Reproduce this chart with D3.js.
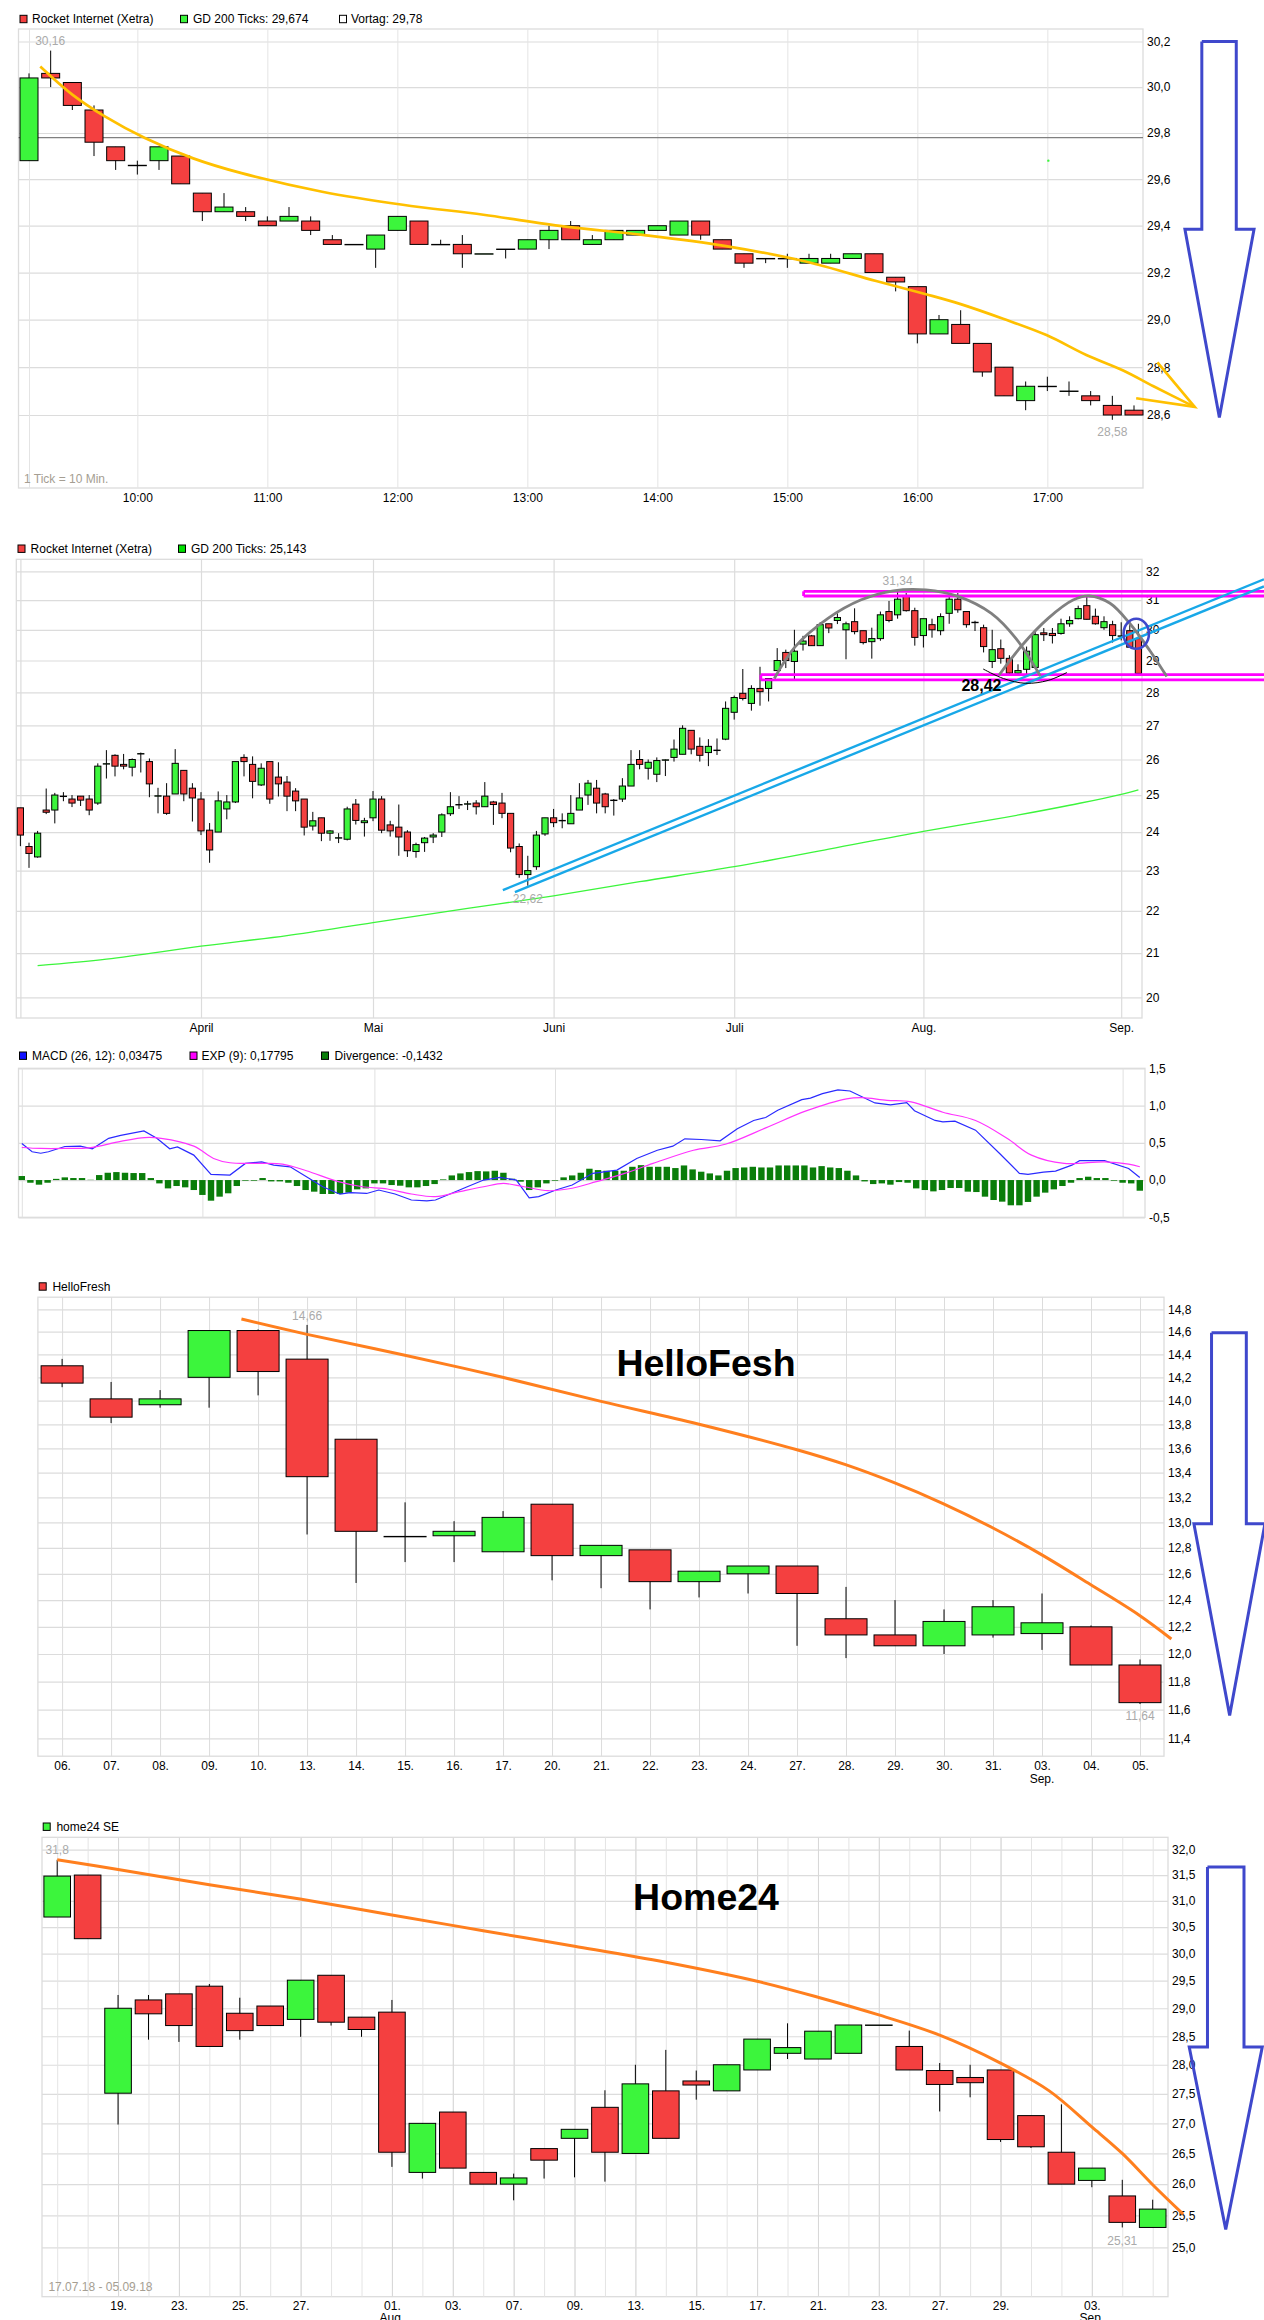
<!DOCTYPE html>
<html><head><meta charset="utf-8">
<script src="https://cdn.jsdelivr.net/npm/d3@7"></script>
<style>
html,body{margin:0;padding:0;background:#fff;overflow:hidden}
svg{display:block}
text{font-family:"Liberation Sans",Arial,sans-serif;font-size:12px;fill:#000}
</style></head><body>
<script>
// ---------- Rocket Internet intraday (10 min ticks) ----------
const introOpen=[29.68,30.06,30.02,29.90,29.74,29.66,29.68,29.70,29.54,29.46,29.46,29.42,29.42,29.42,29.34,29.32,29.30,29.38,29.42,29.32,29.32,29.28,29.30,29.30,29.34,29.40,29.32,29.34,29.36,29.38,29.36,29.42,29.34,29.28,29.26,29.26,29.24,29.24,29.26,29.28,29.18,29.14,28.94,28.98,28.90,28.80,28.66,28.72,28.70,28.68,28.64,28.62];
const introClose=[30.04,30.04,29.92,29.76,29.68,29.66,29.74,29.58,29.46,29.48,29.44,29.40,29.44,29.38,29.32,29.32,29.36,29.44,29.32,29.32,29.28,29.28,29.30,29.34,29.38,29.34,29.34,29.38,29.38,29.40,29.42,29.36,29.30,29.24,29.26,29.26,29.26,29.26,29.28,29.20,29.16,28.94,29.00,28.90,28.78,28.68,28.72,28.72,28.70,28.66,28.60,28.60];
const introHigh=[30.06,30.16,30.02,29.92,29.74,29.68,29.74,29.70,29.54,29.54,29.48,29.44,29.48,29.44,29.36,29.32,29.36,29.44,29.42,29.34,29.36,29.28,29.30,29.34,29.40,29.42,29.36,29.38,29.38,29.40,29.42,29.42,29.34,29.28,29.26,29.28,29.28,29.28,29.28,29.28,29.18,29.14,29.02,29.04,28.90,28.80,28.74,28.76,28.74,28.70,28.68,28.64];
const introLow=[29.68,30.0,29.90,29.70,29.64,29.62,29.64,29.58,29.42,29.46,29.42,29.40,29.42,29.36,29.32,29.32,29.22,29.38,29.32,29.32,29.22,29.28,29.26,29.30,29.30,29.34,29.32,29.34,29.36,29.38,29.36,29.34,29.30,29.22,29.24,29.22,29.24,29.24,29.26,29.20,29.12,28.90,28.94,28.90,28.76,28.68,28.62,28.70,28.68,28.64,28.58,28.60];
const introPriceTicks=[30.2,30.0,29.8,29.6,29.4,29.2,29.0,28.8,28.6];
const introHourIdx=[0,5,11,17,23,29,35,41,47];
const introHourLabels=["","10:00","11:00","12:00","13:00","14:00","15:00","16:00","17:00"];
const introPrevClose=29.78;
const introGdPoint=[47,29.68];
const introGold=[[0.52,30.09],[2,29.967],[3.5,29.872],[5.35,29.778],[7.58,29.69],[9.81,29.626],[13.53,29.546],[17.25,29.49],[20.97,29.447],[24.68,29.397],[28.4,29.36],[32.1,29.314],[35.84,29.247],[39.1,29.164],[41.4,29.108],[43,29.066],[44.96,29.004],[46.96,28.935],[48.8,28.851],[50.5,28.786],[51.9,28.72],[53.8,28.634]];
const introGoldHead=[[52.08,28.82],[53.8,28.634],[51.1,28.67]];
const introBlueArrow=[[54.13,30.2],[55.72,30.2],[55.72,29.385],[56.54,29.385],[54.94,28.59],[53.35,29.385],[54.13,29.385],[54.13,30.2]];

// ---------- Rocket Internet daily ----------
const dayOpen=[24.65,23.62,23.35,24.59,24.59,24.97,24.89,24.97,24.89,24.78,25.88,26.12,25.86,25.78,26.17,25.94,24.98,24.97,25.03,25.69,25.19,24.89,24.05,24.0,24.62,24.81,26.06,25.86,25.28,25.94,25.5,25.36,25.11,24.89,24.16,24.38,23.97,23.85,23.81,24.75,24.25,24.38,24.89,24.19,24.13,24.0,23.49,23.72,23.87,24.0,24.49,24.74,24.76,24.78,24.68,24.81,24.78,24.5,23.62,22.9,23.1,23.95,24.38,24.31,24.22,24.59,25.0,25.19,25.03,24.86,24.89,25.25,26.0,25.75,25.58,25.99,26.06,26.15,26.85,26.38,26.2,26.27,26.59,27.39,27.97,27.66,28.12,28.12,28.68,29.26,28.97,29.53,29.8,29.48,30.2,30.31,30.0,30.27,29.97,29.61,29.71,30.61,30.5,31.13,30.64,29.81,30.17,29.97,30.55,31.03,30.61,30.25,30.07,28.97,29.38,29.07,28.6,28.72,28.78,29.9,29.88,29.88,30.2,30.37,30.81,30.45,30.07,30.17,29.8,29.97,29.71];
const dayClose=[23.92,23.44,23.97,24.53,25.0,24.97,24.78,24.86,24.59,25.81,25.88,25.81,25.81,26.0,26.17,25.31,24.98,24.5,25.89,25.03,24.92,24.03,23.53,24.84,24.81,25.94,25.94,25.38,25.75,24.89,25.31,24.97,24.84,24.13,24.3,23.97,24.03,23.85,24.62,24.31,24.3,24.89,24.05,24.03,23.87,23.51,23.67,23.84,23.92,24.46,24.68,24.74,24.76,24.68,24.97,24.74,24.5,23.58,22.9,23.0,23.92,24.38,24.25,24.31,24.5,24.92,25.33,24.78,24.68,24.86,25.25,25.86,25.86,25.92,25.97,25.99,26.3,26.91,26.3,26.12,26.38,26.27,27.51,27.84,27.81,28.12,28.02,28.43,29.0,29.0,29.3,29.63,29.48,30.17,30.06,30.41,30.2,29.94,29.58,29.71,30.5,30.31,31.03,30.64,29.75,30.37,30.0,30.44,31.03,30.67,30.17,30.25,29.45,29.35,29.07,28.6,28.68,29.3,29.84,29.84,29.81,30.2,30.31,30.71,30.35,30.2,30.27,29.81,29.8,29.43,28.59];
const dayHigh=[24.65,23.72,24.03,25.18,25.06,25.08,25.0,24.97,25.0,25.89,26.27,26.15,26.16,26.03,26.2,26.03,25.2,25.33,26.3,25.69,25.33,25.08,24.24,25.1,25.0,25.94,26.15,26.09,25.89,25.94,25.92,25.53,25.19,24.89,24.54,24.38,24.05,23.97,24.68,24.89,24.38,25.11,24.97,24.3,24.74,24.05,23.72,23.87,23.97,24.5,25.08,24.97,24.84,24.86,25.36,24.84,25.06,24.5,23.7,23.38,24.03,24.38,24.62,24.5,25.0,25.33,25.42,25.42,25.06,24.89,25.47,26.27,26.27,26.0,26.06,26.0,26.58,27.0,26.85,26.64,26.59,26.61,27.72,27.9,28.73,28.22,28.8,28.43,29.4,29.35,30.0,29.8,29.83,30.25,30.2,30.55,30.27,30.72,29.97,30.07,30.61,30.97,31.34,31.24,30.74,30.37,30.37,30.55,31.15,31.24,30.61,30.3,30.17,30.0,29.68,29.17,28.88,29.45,29.96,30.06,30.06,30.37,30.45,30.81,31.13,30.71,30.45,30.3,30.25,30.25,30.2];
const dayLow=[23.63,23.07,23.33,24.48,24.23,24.83,24.67,24.70,24.45,24.73,25.46,25.52,25.72,25.52,25.63,24.94,24.5,24.46,25.03,24.83,24.28,23.92,23.2,24.0,24.34,24.78,25.52,24.91,25.25,24.76,24.96,24.56,24.56,23.91,24.04,23.76,23.77,23.71,23.78,24.2,23.88,24.29,23.97,23.88,23.38,23.35,23.33,23.48,23.71,23.87,24.43,24.62,24.59,24.47,24.68,24.19,24.37,23.47,22.82,22.62,23.02,23.9,24.13,24.1,24.22,24.59,24.73,24.5,24.5,24.44,24.81,25.25,25.72,25.43,25.36,25.53,25.94,26.15,26.15,25.94,25.81,26.13,26.56,27.17,27.75,27.44,27.59,27.72,28.68,28.76,28.4,29.32,29.48,29.48,29.89,30.19,29.04,29.85,29.52,29.06,29.64,30.25,30.37,30.61,29.48,29.42,29.74,29.82,30.2,30.57,30.07,29.96,29.26,28.76,28.9,28.57,28.54,28.55,28.78,29.63,29.55,29.84,30.1,30.35,30.34,30.17,30.0,29.58,29.65,29.42,28.55];
const dayGd200=[[2,20.71],[10,20.86],[21,21.16],[31,21.41],[41,21.72],[52,22.06],[62,22.37],[72,22.72],[83,23.1],[94,23.55],[105,24.02],[113,24.33],[122,24.72],[128,25.02],[130,25.143]];
const dayPriceTicks=[32,31,30,29,28,27,26,25,24,23,22,21,20];
const dayMonthIdx=[0,21,41,62,83,105,128];
const dayMonthLabels=["","April","Mai","Juni","Juli","Aug.","Sep."];
const dayMagentaLevels=[31.3,31.14,28.55,28.39];
const dayMagentaStarts=[91.07,91.07,86.1,86.1];
const dayMagentaEnd=145;
const dayBlueA=[[56.1,22.51],[144.6,31.72]];
const dayBlueB=[[57.5,22.46],[144.6,31.47]];
const dayArc1=[[87.66,28.43],[90.1,29.45],[93.9,30.38],[97.7,31.0],[101.5,31.32],[105.3,31.35],[109.1,31.12],[112.9,30.55],[115.75,29.72],[118.6,28.51]];
const dayArc2=[[113.8,28.54],[116.5,29.5],[119.5,30.38],[122.4,31.0],[124.3,31.14],[126.7,30.89],[129,30.21],[131.4,29.29],[133.3,28.49]];
const dayBowl=[[111.95,28.73],[114.3,28.43],[116.9,28.28],[119.5,28.37],[121.7,28.62]];
const dayCircle=[129.75,29.87];

// ---------- MACD ----------
const macdDivergence=[.054,-.036,-.062,-.036,.016,.036,.027,.027,.004,.067,.098,.107,.098,.094,.094,.027,-.045,-.112,-.08,-.098,-.134,-.2,-.277,-.223,-.178,-.08,-.009,-.009,.027,-.018,-.018,-.036,-.08,-.134,-.156,-.187,-.187,-.187,-.169,-.125,-.112,-.045,-.045,-.067,-.076,-.098,-.098,-.08,-.054,.009,.062,.089,.107,.12,.116,.125,.098,.018,-.022,-.134,-.098,-.045,-.009,.036,.062,.098,.152,.134,.125,.125,.125,.178,.2,.178,.178,.178,.161,.196,.143,.112,.089,.062,.125,.161,.169,.178,.169,.169,.196,.196,.196,.196,.169,.187,.169,.161,.125,.062,-.018,-.054,-.045,-.062,-.027,-.036,-.112,-.134,-.152,-.134,-.107,-.107,-.156,-.161,-.223,-.268,-.29,-.339,-.339,-.294,-.223,-.169,-.125,-.08,-.036,.027,.045,.027,.027,-.009,-.036,-.045,-.1432];
const macdLine=[[0,.49],[1.2,.38],[2.2,.36],[3.1,.38],[5,.45],[6.8,.455],[8.2,.42],[10.1,.56],[11.5,.6],[14.2,.66],[15.7,.56],[17.2,.42],[18.1,.445],[20,.335],[22,.076],[24.2,.067],[26,.223],[27.9,.245],[29.3,.2],[31.2,.178],[33.1,.045],[35,-.09],[37,-.19],[38.2,-.17],[40.1,-.18],[41.5,-.134],[43.4,-.187],[45.3,-.268],[47.1,-.28],[48.1,-.268],[50,-.178],[51.8,-.09],[53.7,0],[55.6,.036],[57.5,0],[59,-.24],[60.1,-.223],[62.1,-.134],[64,-.067],[66.4,.09],[69.2,.134],[71.5,.29],[73.9,.4],[75.7,.455],[77.1,.553],[79,.544],[81.2,.526],[83.2,.69],[85.1,.8],[86.5,.84],[87.9,.937],[90.7,1.08],[91.7,1.1],[93.1,1.16],[94.9,1.21],[96.3,1.195],[99.2,1.035],[101,1.01],[102.9,1.04],[103.8,.93],[106.2,.8],[107.1,.78],[108.5,.79],[110.9,.67],[113.7,.357],[116,.09],[117,.076],[118.8,.107],[120.2,.12],[122.1,.2],[123,.26],[125.9,.26],[128.7,.156],[130,.035]];
const macdExp=[[0,.437],[2.2,.424],[5,.424],[7.8,.433],[11.5,.52],[14.3,.57],[16.2,.56],[20,.455],[22.3,.29],[24.2,.232],[27.5,.223],[30.3,.214],[33.1,.125],[36.8,-.022],[39.6,-.09],[42.5,-.12],[45.3,-.187],[48.1,-.223],[50.9,-.156],[53.7,-.09],[56,-.045],[58.4,-.09],[61.2,-.143],[64,-.11],[66.8,-.022],[70.1,.09],[73.4,.223],[78.1,.4],[81.8,.48],[86.5,.7],[91.2,.928],[95.9,1.09],[97.7,1.106],[100.6,1.07],[103.4,1.05],[107.1,.91],[110.9,.8],[114.6,.557],[117.4,.334],[121.2,.223],[125.9,.245],[128.7,.214],[130,.178]];
const macdTicks=[1.5,1,.5,0,-.5];

// ---------- HelloFresh ----------
const helloDays=["06.","07.","08.","09.","10.","13.","14.","15.","16.","17.","20.","21.","22.","23.","24.","27.","28.","29.","30.","31.","03.","04.","05."];
const helloOpen=[14.30,14.015,13.965,14.2,14.61,14.358,13.675,12.89,12.895,12.77,13.145,12.74,12.785,12.54,12.6,12.66,12.26,12.14,12.06,12.14,12.15,12.2,11.92];
const helloClose=[14.15,13.86,14.015,14.61,14.25,13.367,12.93,12.89,12.93,13.04,12.74,12.82,12.54,12.62,12.66,12.45,12.14,12.06,12.24,12.35,12.23,11.92,11.65];
const helloHigh=[14.36,14.16,14.09,14.61,14.62,14.66,13.675,13.16,13.01,13.09,13.145,12.82,12.785,12.62,12.66,12.66,12.5,12.40,12.33,12.4,12.45,12.21,11.96];
const helloLow=[14.115,13.81,13.94,13.94,14.045,12.905,12.53,12.69,12.69,12.77,12.55,12.49,12.33,12.42,12.45,12.06,11.97,12.06,12.0,12.12,12.03,11.92,11.64];
const helloTicks=[14.8,14.6,14.4,14.2,14.0,13.8,13.6,13.4,13.2,13.0,12.8,12.6,12.4,12.2,12.0,11.8,11.6,11.4];
const helloCurve=[[3.66,14.7125],[5,14.576],[6.95,14.397],[8.99,14.2],[11,13.994],[12.98,13.803],[14.98,13.59],[15.99,13.465],[16.97,13.32],[17.98,13.15],[18.98,12.96],[19.98,12.75],[20.98,12.52],[21.97,12.29],[22.64,12.11]];
const helloArrow=[[23.46,14.59],[24.17,14.59],[24.17,12.99],[24.55,12.99],[23.83,11.56],[23.1,12.99],[23.46,12.99],[23.46,14.59]];

// ---------- home24 ----------
const homeOpen=[30.69,31.5,27.51,29.15,29.26,29.4,28.91,29.04,28.8,29.6,28.84,28.93,26.19,27.19,26.19,26.0,26.58,26.75,27.27,26.5,27.55,27.72,27.55,27.91,28.2,28.1,28.2,28.7,28.32,27.9,27.78,27.91,27.13,26.52,26.06,25.81,25.31];
const homeClose=[31.48,30.28,29.0,28.9,28.69,28.32,28.6,28.69,29.51,28.75,28.62,26.52,27.0,26.26,26.0,26.1,26.39,26.9,26.52,27.67,26.75,27.65,28.0,28.45,28.3,28.59,28.7,28.7,27.91,27.66,27.69,26.73,26.61,26.0,26.26,25.39,25.6];
const homeHigh=[31.8,31.5,29.24,29.24,29.26,29.44,29.19,29.04,29.51,29.6,28.84,29.15,27.0,27.19,26.19,26.17,26.58,26.9,27.56,28.0,28.26,27.9,28.0,28.45,28.73,28.59,28.7,28.7,28.6,28.03,28.0,27.91,27.13,27.32,26.26,26.07,25.75];
const homeLow=[30.69,30.28,26.98,28.44,28.4,28.32,28.44,28.69,28.49,28.69,28.49,26.28,26.09,26.26,26.0,25.74,26.09,26.11,26.04,26.5,26.75,27.4,27.55,27.91,28.1,28.1,28.2,28.7,27.91,27.2,27.44,26.69,26.59,26.0,25.95,25.31,25.31];
const homeTicks=[32,31.5,31,30.5,30,29.5,29,28.5,28,27.5,27,26.5,26,25.5,25];
const homeLabelIdx=[2,4,6,8,11,13,15,17,19,21,23,25,27,29,31,34];
const homeLabels=["19.","23.","25.","27.","01.","03.","07.","09.","13.","15.","17.","21.","23.","27.","29.","03."];
const homeCurve=[[0,31.8],[2.1,31.6],[5,31.31],[8.03,31.03],[11,30.73],[14,30.43],[17,30.14],[20,29.84],[23,29.49],[25,29.2],[27,28.88],[29,28.52],[31,28.03],[32.6,27.55],[34,26.94],[35,26.5],[36,25.99],[37,25.52]];
const homeArrow=[[37.8,31.66],[39,31.66],[39,28.31],[39.6,28.31],[38.4,25.28],[37.2,28.31],[37.8,28.31],[37.8,31.66]];

// ---------- colours ----------
const RED="#f44040",GREEN="#3cf53c",GRID="#dcdcdc",FRAME="#dcdcdc",NOTE="#aaaaaa",BLUEARROW="#3f48cc",GOLD="#ffc000",ORANGE="#ff7f1e";

const svg=d3.select("body").append("svg").attr("width",1264).attr("height",2320).attr("viewBox","0 0 1264 2320");
const comma=d=>String(d).replace(".",",");
const fix1=d=>d.toFixed(1).replace(".",",");

function legend(items,y){
  items.forEach(it=>{
    svg.append("rect").attr("x",it.x+.5).attr("y",y-3.7).attr("width",7).attr("height",7.4).attr("fill",it.c).attr("stroke","#000").attr("stroke-width",1);
    svg.append("text").attr("x",it.tx).attr("y",y+4.2).text(it.t);
  });
}
function frame(b){
  svg.append("rect").attr("x",b.l).attr("y",b.t).attr("width",b.r-b.l).attr("height",b.b-b.t).attr("fill","#fff").attr("stroke",FRAME).attr("stroke-width",1.3);
}
function gridY(scale,ticks,b,fmt,pad){
  const g=svg.append("g").attr("transform",`translate(${b.r},0)`)
    .call(d3.axisRight(scale).tickValues(ticks).tickFormat(fmt).tickSize(-(b.r-b.l)).tickPadding(pad));
  g.select(".domain").remove();
  g.selectAll("line").attr("stroke",GRID).attr("stroke-width",1.2);
  g.selectAll("text").style("font-family",'"Liberation Sans",Arial,sans-serif').style("font-size","12px").attr("fill","#000");
}
function gridX(scale,idx,labels,b,col,w){
  const g=svg.append("g").attr("transform",`translate(0,${b.b})`)
    .call(d3.axisBottom(scale).tickValues(idx).tickFormat((d,i)=>labels?labels[i]:"").tickSize(-(b.b-b.t)).tickPadding(5));
  g.select(".domain").remove();
  g.selectAll("line").attr("stroke",col||GRID).attr("stroke-width",w||1);
  g.selectAll("text").style("font-family",'"Liberation Sans",Arial,sans-serif').style("font-size","12px").attr("fill","#000");
}
function candles(x,y,o,h,l,c,bw){
  const g=svg.append("g");
  const data=d3.range(o.length);
  g.selectAll(".w").data(data).join("line").attr("x1",i=>x(i)).attr("x2",i=>x(i)).attr("y1",i=>y(h[i])).attr("y2",i=>y(l[i])).attr("stroke","#000").attr("stroke-width",1);
  g.selectAll(".b").data(data).join("rect")
    .attr("x",i=>x(i)-bw/2).attr("width",bw)
    .attr("y",i=>Math.min(y(o[i]),y(c[i])))
    .attr("height",i=>Math.max(.4,Math.abs(y(o[i])-y(c[i]))))
    .attr("fill",i=>c[i]<o[i]?RED:GREEN).attr("stroke","#000").attr("stroke-width",1);
}
function pathLine(x,y,pts,col,w,curve){
  const ln=d3.line().x(d=>x(d[0])).y(d=>y(d[1]));
  if(curve) ln.curve(curve);
  return svg.append("path").attr("d",ln(pts)).attr("fill","none").attr("stroke",col).attr("stroke-width",w).attr("stroke-linejoin","miter");
}
function note(x,y,t,col,anchor){
  return svg.append("text").attr("x",x).attr("y",y).attr("text-anchor",anchor||"middle").attr("dy",".35em").style("fill",col||NOTE).text(t);
}

// ===== Chart 1 =====
{
  const b={l:18.5,r:1143,t:29,b:488};
  const x=d3.scaleLinear().domain([0,51]).range([29,1134]);
  const y=d3.scaleLog().domain([30.2,28.6]).range([41.5,415]);
  legend([{x:19.5,tx:32,c:RED,t:"Rocket Internet (Xetra)"},{x:180,tx:193,c:GREEN,t:"GD 200 Ticks: 29,674"},{x:339,tx:351,c:"#fff",t:"Vortag: 29,78"}],19);
  frame(b);
  gridY(y,introPriceTicks,b,fix1,4);
  gridX(x,introHourIdx,introHourLabels,b,"#e4e4e4",1);
  svg.append("line").attr("x1",b.l).attr("x2",b.r).attr("y1",y(introPrevClose)).attr("y2",y(introPrevClose)).attr("stroke","#808080").attr("stroke-width",1.2);
  svg.append("circle").attr("cx",x(introGdPoint[0])+1).attr("cy",y(introGdPoint[1])).attr("r",1.2).attr("fill",GREEN);
  candles(x,y,introOpen,introHigh,introLow,introClose,18);
  note(x(1)-.5,41,"30,16");
  note(x(50),432,"28,58");
  note(24,479,"1 Tick = 10 Min.","#a59e92","start");
  pathLine(x,y,introGold,GOLD,2.7,d3.curveCatmullRom);
  pathLine(x,y,introGoldHead,GOLD,2.7);
  pathLine(x,y,introBlueArrow,BLUEARROW,3);
}
// ===== Chart 2 =====
{
  const b={l:16.3,r:1142,t:559.3,b:1018};
  const x=d3.scaleLinear().domain([0,130]).range([20.4,1138.4]);
  const y=d3.scaleLog().domain([32,20]).range([571.3,997.3]);
  legend([{x:17.5,tx:30.6,c:RED,t:"Rocket Internet (Xetra)"},{x:178,tx:191,c:"#00e000",t:"GD 200 Ticks: 25,143"}],548.7);
  frame(b);
  gridY(y,dayPriceTicks,b,comma,4);
  gridX(x,dayMonthIdx,dayMonthLabels,b,"#dcdcdc",1.2);
  candles(x,y,dayOpen,dayHigh,dayLow,dayClose,6.2);
  pathLine(x,y,dayGd200,"#3cf53c",1.3,d3.curveMonotoneX);
  dayMagentaLevels.forEach((v,i)=>{
    svg.append("line").attr("x1",x(dayMagentaStarts[i])).attr("x2",x(dayMagentaEnd)).attr("y1",y(v)).attr("y2",y(v)).attr("stroke","#ff00ff").attr("stroke-width",2.8);
  });
  [[0,1],[2,3]].forEach(p=>{
    svg.append("line").attr("x1",x(dayMagentaStarts[p[0]])).attr("x2",x(dayMagentaStarts[p[0]])).attr("y1",y(dayMagentaLevels[p[0]])).attr("y2",y(dayMagentaLevels[p[1]])).attr("stroke","#ff00ff").attr("stroke-width",2.8);
  });
  pathLine(x,y,dayBlueA,"#18a8e8",2.4);
  pathLine(x,y,dayBlueB,"#18a8e8",2.4);
  pathLine(x,y,dayArc1,"#808080",2.8,d3.curveCatmullRom);
  pathLine(x,y,dayArc2,"#808080",2.8,d3.curveCatmullRom);
  pathLine(x,y,dayBowl,"#000",1,d3.curveCatmullRom);
  svg.append("ellipse").attr("cx",x(dayCircle[0])).attr("cy",y(dayCircle[1])).attr("rx",12.7).attr("ry",15).attr("fill","none").attr("stroke",BLUEARROW).attr("stroke-width",2.6);
  note(x(102),580.7,"31,34");
  note(x(59),898.3,"22,62");
  svg.append("text").attr("x",981.5).attr("y",685.7).attr("dy",".35em").attr("text-anchor","middle").style("font-weight","bold").style("font-size","16px").text("28,42");
}
// ===== Chart 3 =====
{
  const b={l:18.5,r:1145,t:1068.3,b:1217.3};
  const x=d3.scaleLinear().domain([0,130]).range([21.8,1139.8]);
  const y=d3.scaleLinear().domain([1.5,-.5]).range([1068.3,1217.3]);
  legend([{x:19,tx:32,c:"#1010ff",t:"MACD (26, 12): 0,03475"},{x:189.5,tx:201.6,c:"#ff00ff",t:"EXP (9): 0,17795"},{x:321,tx:334.6,c:"#0a7d0a",t:"Divergence: -0,1432"}],1055.7);
  frame(b);
  gridY(y,macdTicks,b,fix1,4);
  gridX(x,dayMonthIdx,null,b,"#e0e0e0",1);
  svg.append("g").selectAll("rect").data(macdDivergence).join("rect")
    .attr("x",(d,i)=>x(i)-3.2).attr("width",6.4)
    .attr("y",d=>Math.min(y(d),y(0))).attr("height",d=>Math.abs(y(d)-y(0))).attr("fill","#0a7d0a");
  pathLine(x,y,macdLine,"#2a2aff",1.2);
  pathLine(x,y,macdExp,"#ff33ff",1.2,d3.curveCatmullRom);
}
// ===== Chart 4 =====
{
  const b={l:37.9,r:1164,t:1297.2,b:1756.2};
  const x=d3.scaleLinear().domain([0,22]).range([62.1,1140]);
  const y=d3.scaleLog().domain([14.8,11.4]).range([1309.3,1738.3]);
  legend([{x:38.7,tx:52.4,c:RED,t:"HelloFresh"}],1286.5);
  frame(b);
  gridY(y,helloTicks,b,fix1,4);
  gridX(x,d3.range(helloDays.length),helloDays,b,"#dcdcdc",1);
  candles(x,y,helloOpen,helloHigh,helloLow,helloClose,42);
  note(x(5),1316,"14,66");
  note(x(22),1716,"11,64");
  note(x(20),1779,"Sep.","#000");
  pathLine(x,y,helloCurve,ORANGE,3,d3.curveCatmullRom);
  pathLine(x,y,helloArrow,BLUEARROW,3);
  svg.append("text").attr("x",706).attr("y",1363).attr("dy",".35em").attr("text-anchor","middle").style("font-weight","bold").style("font-size","37.5px").text("HelloFesh");
}
// ===== Chart 5 =====
{
  const b={l:42,r:1168,t:1837.3,b:2296.7};
  const x=d3.scaleLinear().domain([0,36]).range([57.2,1152.7]);
  const y=d3.scaleLog().domain([32,25]).range([1849.7,2247.3]);
  legend([{x:42.7,tx:56.4,c:GREEN,t:"home24 SE"}],1826.7);
  frame(b);
  gridY(y,homeTicks,b,fix1,4);
  gridX(x,d3.range(homeOpen.length),null,b,"#e4e4e4",1);
  gridX(x,homeLabelIdx,homeLabels,b,"#d8d8d8",1);
  candles(x,y,homeOpen,homeHigh,homeLow,homeClose,26.6);
  note(x(0),1849.7,"31,8");
  note(x(35),2240.7,"25,31");
  note(48.4,2286.7,"17.07.18 - 05.09.18","#a59e92","start");
  note(x(11),2318,"Aug.","#000");
  note(x(34),2318,"Sep.","#000");
  pathLine(x,y,homeCurve,ORANGE,3,d3.curveCatmullRom);
  pathLine(x,y,homeArrow,BLUEARROW,3);
  svg.append("text").attr("x",706).attr("y",1897).attr("dy",".35em").attr("text-anchor","middle").style("font-weight","bold").style("font-size","37.5px").text("Home24");
}
</script></body></html>
